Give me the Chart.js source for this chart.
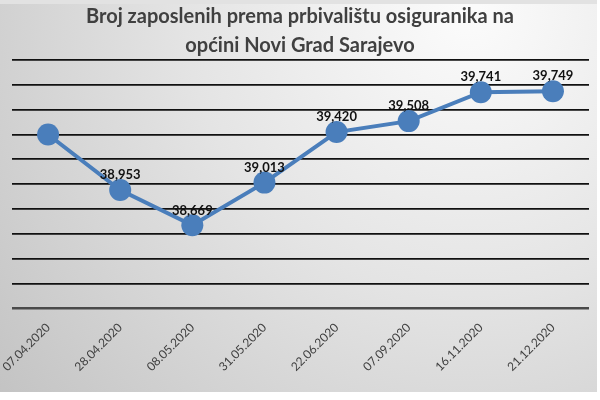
<!DOCTYPE html>
<html>
<head>
<meta charset="utf-8">
<script src="https://cdn.jsdelivr.net/npm/chart.js@4/dist/chart.umd.min.js"></script>
<style>
  html, body { margin: 0; padding: 0; background: #ffffff; }
  #wrap { width: 600px; height: 400px; }
</style>
</head>
<body>
<div id="wrap"><canvas id="c" width="600" height="400"></canvas></div>
<script>
const categories = ["07.04.2020", "28.04.2020", "08.05.2020", "31.05.2020", "22.06.2020", "07.09.2020", "16.11.2020", "21.12.2020"];
const employees = [39400, 38953, 38669, 39013, 39420, 39508, 39741, 39749];
const showLabel = [false, true, true, true, true, true, true, true];
const titleLines = ["Broj zaposlenih prema prbivalištu osiguranika na", "općini Novi Grad Sarajevo"];
const yMin = 38000, yMax = 40000, yStep = 200;

const bgPlugin = {
  id: 'bg',
  beforeDraw(chart) {
    const ctx = chart.ctx;
    ctx.save();
    ctx.fillStyle = '#ffffff';
    ctx.fillRect(0, 0, chart.width, chart.height);
    ctx.fillStyle = '#e2e2e2';
    ctx.fillRect(0, 0, 597, 4);
    const g = ctx.createRadialGradient(470, 10, 10, 470, 10, 620);
    g.addColorStop(0, '#fbfbfb');
    g.addColorStop(0.45, '#e4e4e4');
    g.addColorStop(1, '#c2c2c2');
    ctx.fillStyle = g;
    ctx.fillRect(0, 4, 597, 388);
    ctx.restore();
  }
};

const labelPlugin = {
  id: 'valLabels',
  afterDatasetsDraw(chart) {
    const ctx = chart.ctx;
    const meta = chart.getDatasetMeta(0);
    ctx.save();
    ctx.font = 'bold 13px Lato, "Liberation Sans", sans-serif';
    ctx.fillStyle = '#111111';
    ctx.textAlign = 'center';
    ctx.textBaseline = 'middle';
    meta.data.forEach((pt, i) => {
      if (!showLabel[i]) return;
      ctx.fillText(employees[i].toLocaleString('en-US'), pt.x, pt.y - 15);
    });
    ctx.restore();
  }
};

new Chart(document.getElementById('c'), {
  type: 'line',
  data: {
    labels: categories,
    datasets: [{
      data: employees,
      borderColor: '#4a7ebb',
      backgroundColor: '#4a7ebb',
      borderWidth: 4,
      pointRadius: 11,
      pointHoverRadius: 11,
      pointBackgroundColor: '#4a7ebb',
      pointBorderColor: '#4a7ebb',
      pointBorderWidth: 0,
      tension: 0,
      fill: false
    }]
  },
  options: {
    responsive: false,
    animation: false,
    devicePixelRatio: 1,
    layout: { padding: { left: 7, right: 7, top: 0, bottom: 22 } },
    plugins: {
      legend: { display: false },
      tooltip: { enabled: false },
      title: {
        display: true,
        text: titleLines,
        color: '#404040',
        font: { family: 'Lato, "Open Sans", sans-serif', size: 20, weight: 'bold', lineHeight: 1.45 },
        padding: { top: 2, bottom: 0 }
      }
    },
    scales: {
      x: {
        offset: true,
        grid: { display: false },
        border: { display: false },
        ticks: {
          minRotation: 45,
          maxRotation: 45,
          color: '#404040',
          padding: 4,
          font: { family: 'Lato, "Liberation Sans", sans-serif', size: 12 }
        }
      },
      y: {
        min: yMin,
        max: yMax,
        ticks: { display: false, stepSize: yStep },
        border: { display: false },
        grid: {
          drawTicks: false,
          color: (c) => c.tick && c.tick.value === yMin ? '#4a4a4a' : '#111111',
          lineWidth: (c) => c.tick && c.tick.value === yMin ? 2.5 : 1.8
        }
      }
    }
  },
  plugins: [bgPlugin, labelPlugin]
});
</script>
</body>
</html>
